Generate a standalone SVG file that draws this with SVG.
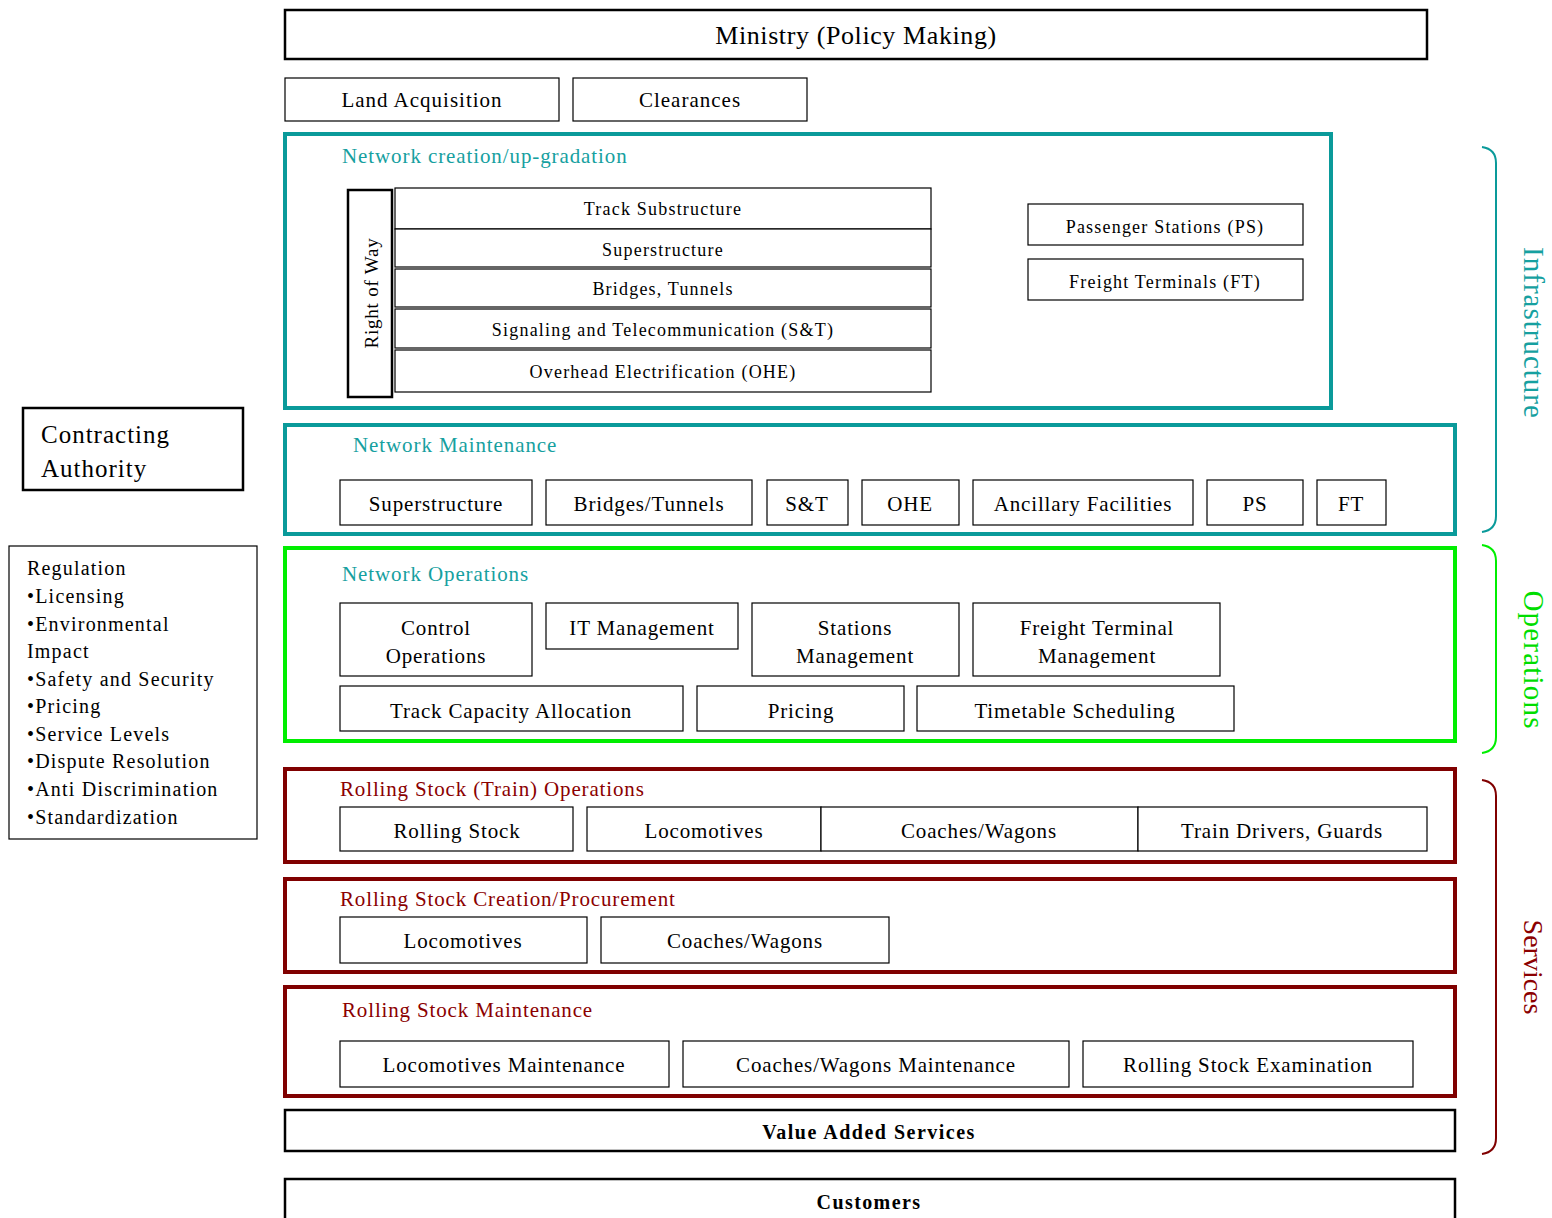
<svg xmlns="http://www.w3.org/2000/svg" width="1552" height="1218" viewBox="0 0 1552 1218">
<style>
text{font-family:"Liberation Serif","Times New Roman",serif;fill:#000}
.b{fill:#fff;stroke:#000;stroke-width:1.2}
.bk{fill:#fff;stroke:#000;stroke-width:2.5}
.teal{fill:none;stroke:#0a9a9a;stroke-width:4}
.grn{fill:none;stroke:#00ee00;stroke-width:4}
.red{fill:none;stroke:#800000;stroke-width:4}
.t18{font-size:18px;text-anchor:middle;letter-spacing:1.2px}
.t21{font-size:21px;text-anchor:middle;letter-spacing:0.85px}
.tt{fill:#16a0a0;font-size:21px;letter-spacing:0.9px}
.tr{fill:#8b0000;font-size:21px;letter-spacing:0.85px}
.br{fill:none;stroke-width:2}
</style>
<rect width="1552" height="1218" fill="#fff"/>

<g id="ministry"><rect class="bk" x="285" y="10" width="1142" height="49"/><text x="856" y="44" font-size="26" text-anchor="middle" letter-spacing="0.6">Ministry (Policy Making)</text></g>
<g id="land"><rect class="b" x="285" y="78" width="274" height="43"/><text class="t21" x="422" y="107" style="letter-spacing:1px">Land Acquisition</text></g>
<g id="clearances"><rect class="b" x="573" y="78" width="234" height="43"/><text class="t21" x="690" y="107" style="letter-spacing:1px">Clearances</text></g>

<g id="network-creation">
<rect class="teal" x="285" y="134" width="1046" height="274"/>
<text class="tt" x="342" y="163">Network creation/up-gradation</text>
<rect class="bk" x="348" y="190" width="44" height="207"/>
<text transform="translate(378,293) rotate(-90)" font-size="19" text-anchor="middle" letter-spacing="0.8">Right of Way</text>
<rect class="b" x="395" y="188" width="536" height="41"/><text class="t18" x="663" y="215">Track Substructure</text>
<rect class="b" x="395" y="229" width="536" height="38"/><text class="t18" x="663" y="256">Superstructure</text>
<rect class="b" x="395" y="269" width="536" height="38"/><text class="t18" x="663" y="295">Bridges, Tunnels</text>
<rect class="b" x="395" y="309" width="536" height="39"/><text class="t18" x="663" y="336">Signaling and Telecommunication (S&amp;T)</text>
<rect class="b" x="395" y="350" width="536" height="42"/><text class="t18" x="663" y="378">Overhead Electrification (OHE)</text>
<rect class="b" x="1028" y="204" width="275" height="41"/><text class="t18" x="1165" y="233">Passenger Stations (PS)</text>
<rect class="b" x="1028" y="259" width="275" height="41"/><text class="t18" x="1165" y="288">Freight Terminals (FT)</text>
</g>

<g id="network-maintenance">
<rect class="teal" x="285" y="425" width="1170" height="109"/>
<text class="tt" x="353" y="452">Network Maintenance</text>
<rect class="b" x="340" y="480" width="192" height="45"/><text class="t21" x="436" y="511">Superstructure</text>
<rect class="b" x="546" y="480" width="206" height="45"/><text class="t21" x="649" y="511">Bridges/Tunnels</text>
<rect class="b" x="767" y="480" width="81" height="45"/><text class="t21" x="807" y="511">S&amp;T</text>
<rect class="b" x="862" y="480" width="97" height="45"/><text class="t21" x="910" y="511">OHE</text>
<rect class="b" x="973" y="480" width="220" height="45"/><text class="t21" x="1083" y="511">Ancillary Facilities</text>
<rect class="b" x="1207" y="480" width="96" height="45"/><text class="t21" x="1255" y="511">PS</text>
<rect class="b" x="1317" y="480" width="69" height="45"/><text class="t21" x="1351" y="511">FT</text>
</g>

<g id="network-operations">
<rect class="grn" x="285" y="548" width="1170" height="193"/>
<text class="tt" x="342" y="581">Network Operations</text>
<rect class="b" x="340" y="603" width="192" height="73"/><text class="t21" x="436" y="635">Control</text><text class="t21" x="436" y="663">Operations</text>
<rect class="b" x="546" y="603" width="192" height="46"/><text class="t21" x="642" y="635">IT Management</text>
<rect class="b" x="752" y="603" width="207" height="73"/><text class="t21" x="855" y="635">Stations</text><text class="t21" x="855" y="663">Management</text>
<rect class="b" x="973" y="603" width="247" height="73"/><text class="t21" x="1097" y="635">Freight Terminal</text><text class="t21" x="1097" y="663">Management</text>
<rect class="b" x="340" y="686" width="343" height="45"/><text class="t21" x="511" y="718">Track Capacity Allocation</text>
<rect class="b" x="697" y="686" width="207" height="45"/><text class="t21" x="801" y="718">Pricing</text>
<rect class="b" x="917" y="686" width="317" height="45"/><text class="t21" x="1075" y="718">Timetable Scheduling</text>
</g>

<g id="rs-operations">
<rect class="red" x="285" y="769" width="1170" height="93"/>
<text class="tr" x="340" y="796">Rolling Stock (Train) Operations</text>
<rect class="b" x="340" y="807" width="233" height="44"/><text class="t21" x="457" y="838">Rolling Stock</text>
<rect class="b" x="587" y="807" width="234" height="44"/><text class="t21" x="704" y="838">Locomotives</text>
<rect class="b" x="821" y="807" width="317" height="44"/><text class="t21" x="979" y="838">Coaches/Wagons</text>
<rect class="b" x="1138" y="807" width="289" height="44"/><text class="t21" x="1282" y="838">Train Drivers, Guards</text>
</g>

<g id="rs-creation">
<rect class="red" x="285" y="879" width="1170" height="93"/>
<text class="tr" x="340" y="906">Rolling Stock Creation/Procurement</text>
<rect class="b" x="340" y="917" width="247" height="46"/><text class="t21" x="463" y="948">Locomotives</text>
<rect class="b" x="601" y="917" width="288" height="46"/><text class="t21" x="745" y="948">Coaches/Wagons</text>
</g>

<g id="rs-maintenance">
<rect class="red" x="285" y="987" width="1170" height="109"/>
<text class="tr" x="342" y="1017">Rolling Stock Maintenance</text>
<rect class="b" x="340" y="1041" width="329" height="46"/><text class="t21" x="504" y="1072">Locomotives Maintenance</text>
<rect class="b" x="683" y="1041" width="386" height="46"/><text class="t21" x="876" y="1072">Coaches/Wagons Maintenance</text>
<rect class="b" x="1083" y="1041" width="330" height="46"/><text class="t21" x="1248" y="1072">Rolling Stock Examination</text>
</g>

<g id="value-added"><rect class="bk" x="285" y="1110" width="1170" height="41"/><text x="869" y="1139" font-size="20" font-weight="bold" text-anchor="middle" letter-spacing="1.5">Value Added Services</text></g>
<g id="customers"><rect class="bk" x="285" y="1179" width="1170" height="60"/><text x="869" y="1209" font-size="20" font-weight="bold" text-anchor="middle" letter-spacing="1.4">Customers</text></g>

<g id="contracting"><rect class="bk" x="23" y="408" width="220" height="82"/><text x="41" y="443" font-size="25" letter-spacing="1">Contracting</text><text x="41" y="477" font-size="25" letter-spacing="1">Authority</text></g>

<g id="regulation"><rect class="b" x="9" y="546" width="248" height="293"/>
<text font-size="20" letter-spacing="1.2"><tspan x="27" y="575">Regulation</tspan><tspan x="27" y="603">•Licensing</tspan><tspan x="27" y="631">•Environmental</tspan><tspan x="27" y="658">Impact</tspan><tspan x="27" y="686">•Safety and Security</tspan><tspan x="27" y="713">•Pricing</tspan><tspan x="27" y="741">•Service Levels</tspan><tspan x="27" y="768">•Dispute Resolution</tspan><tspan x="27" y="796">•Anti Discrimination</tspan><tspan x="27" y="824">•Standardization</tspan></text>
</g>

<g id="connectors">
<path class="br" stroke="#0a9a9a" d="M1482,147 Q1496,149 1496,163 L1496,516 Q1496,530 1482,532"/>
<path class="br" stroke="#00ee00" d="M1482,545 Q1496,547 1496,561 L1496,737 Q1496,751 1482,753"/>
<path class="br" stroke="#800000" d="M1482,780 Q1496,782 1496,796 L1496,1138 Q1496,1152 1482,1154"/>
</g>
<g id="labels">
<text transform="translate(1524,333) rotate(90)" font-size="29" text-anchor="middle" letter-spacing="1" style="fill:#16a0a0">Infrastructure</text>
<text transform="translate(1524,660) rotate(90)" font-size="29" text-anchor="middle" letter-spacing="1.2" style="fill:#00dd00">Operations</text>
<text transform="translate(1524,967) rotate(90)" font-size="28" text-anchor="middle" style="fill:#8b0000">Services</text>
</g>
</svg>
